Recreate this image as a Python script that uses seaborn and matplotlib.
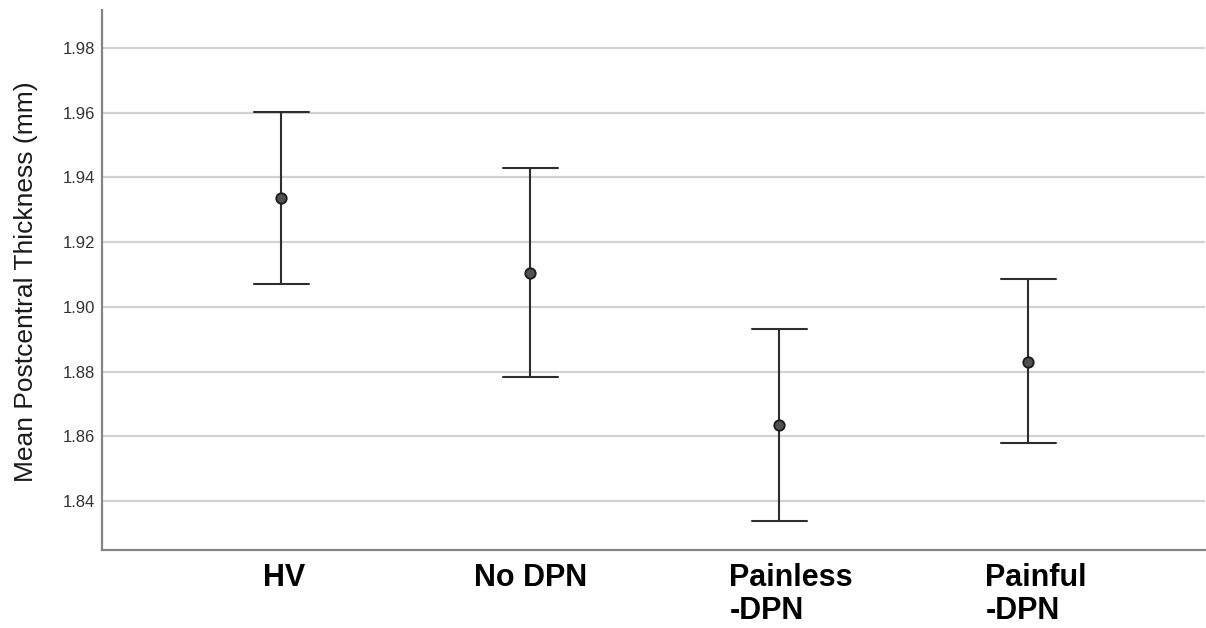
import numpy as np
import pandas as pd
import matplotlib
matplotlib.use("Agg")
import matplotlib.pyplot as plt
import matplotlib.transforms as mtransforms
import seaborn as sns

# ---- data ----
groups = ["HV", "No DPN", "Painless\n-DPN", "Painful\n-DPN"]
means = [1.9336, 1.9105, 1.8634, 1.8831]
ci_low = [1.9072, 1.8782, 1.8338, 1.8578]
ci_high = [1.9602, 1.9430, 1.8932, 1.9087]
yticks = [1.84, 1.86, 1.88, 1.90, 1.92, 1.94, 1.96, 1.98]
ylabel = "Mean Postcentral Thickness (mm)"

# long table: each group holds lower bound, mean, upper bound;
# median gives the mean, 100% percentile interval gives the CI
rows = []
for g, lo, m, hi in zip(groups, ci_low, means, ci_high):
    for v in (lo, m, hi):
        rows.append({"group": g, "value": v})
df = pd.DataFrame(rows)

sns.set_theme(style="white")
plt.rcParams["font.family"] = ["Liberation Sans", "DejaVu Sans"]

fig = plt.figure(figsize=(12.06, 6.28), dpi=100)
ax = fig.add_axes([102 / 1206, 78 / 628, 1103 / 1206, 540 / 628])

sns.pointplot(
    data=df, x="group", y="value", order=groups,
    estimator="median", errorbar=("pi", 100),
    linestyle="none", marker="o", markersize=7.5,
    color="#3a3a3a", capsize=0.22,
    err_kws={"linewidth": 1.5, "color": "#2e2e2e"},
    ax=ax,
)
for ln in ax.lines:
    if ln.get_marker() == "o":
        ln.set_markeredgecolor("#1a1a1a")
        ln.set_markeredgewidth(1.3)
        ln.set_markerfacecolor("#505050")
        ln.set_zorder(5)

ax.set_ylim(1.82486, 1.99174)
ax.set_xlim(-0.72, 3.71)
ax.set_yticks(yticks)
ax.set_yticklabels([f"{t:.2f}" for t in yticks], fontsize=12, color="#333333")
ax.yaxis.grid(True, color="#d2d2d2", linewidth=1.6)
ax.xaxis.grid(False)
ax.set_axisbelow(True)

for side in ("top", "right"):
    ax.spines[side].set_visible(False)
for side in ("left", "bottom"):
    ax.spines[side].set_color("#858585")
    ax.spines[side].set_linewidth(1.6)
ax.tick_params(axis="both", length=0)
ax.tick_params(axis="y", pad=5)

ax.set_xlabel("")
ax.set_ylabel(ylabel, fontsize=19, color="#1a1a1a", va="center")
ax.yaxis.set_label_coords((26 - 102) / 1103, (550 - 282) / 540)

# category labels: bold, block-centred, lines left aligned as in the reference
label_offsets_px = [3, 0, 12, 8]
ax.set_xticks(range(len(groups)))
ax.set_xticklabels(groups)
ax.tick_params(axis="x", pad=9)
for lab, dx in zip(ax.get_xticklabels(), label_offsets_px):
    lab.set_fontweight("bold")
    lab.set_fontsize(22)
    lab.set_color("black")
    lab.set_horizontalalignment("center")
    lab.set_multialignment("left")
    lab.set_linespacing(1.17)
    lab.set_transform(lab.get_transform() + mtransforms.ScaledTranslation(dx / 100, 0, fig.dpi_scale_trans))

fig.savefig("out.png", dpi=100, facecolor="white")
